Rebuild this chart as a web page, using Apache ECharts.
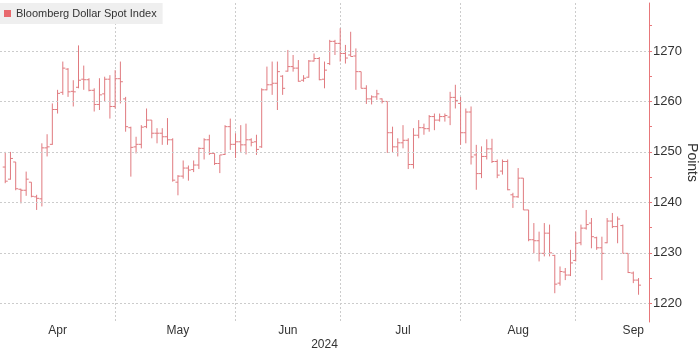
<!DOCTYPE html>
<html>
<head>
<meta charset="utf-8">
<script src="https://cdn.jsdelivr.net/npm/echarts@6/dist/echarts.min.js"></script>
<style>
  html, body { margin: 0; padding: 0; background: #fff; }
  #chart { width: 699px; height: 353px; }
</style>
</head>
<body>
<div id="chart"></div>
<script>
  // daily bars, Apr 2 - Sep 18 2024 (weekdays)
  var firstDay = '2024-04-02';
  var lastDay = '2024-09-18';

  var open = [
    1247.0, 1244.6, 1248.0, 1242.6, 1242.4, 1244.0, 1241.1, 1240.7, 1250.8, 1251.5,
    1258.4, 1261.8, 1266.4, 1262.0, 1262.8, 1264.4, 1264.3, 1262.2, 1259.4, 1261.5,
    1264.4, 1259.0, 1264.5, 1260.5, 1254.8, 1251.0, 1251.5, 1255.0, 1256.3, 1253.7,
    1253.7, 1253.0, 1252.4, 1244.0, 1245.2, 1246.8, 1246.5, 1247.4, 1250.7, 1252.4,
    1249.7, 1247.7, 1249.5, 1255.0, 1251.5, 1252.0, 1251.4, 1252.4, 1252.0, 1251.0,
    1262.3, 1263.3, 1263.6, 1265.0, 1266.0, 1266.9, 1266.6, 1264.2, 1264.8, 1268.0,
    1268.5, 1264.4, 1267.5, 1271.9, 1271.5, 1269.5, 1269.2, 1269.0, 1265.9, 1262.6,
    1260.5, 1260.9, 1260.5, 1260.0, 1253.8, 1251.0, 1251.8, 1252.3, 1247.5, 1253.3,
    1254.8, 1254.6, 1257.0, 1256.3, 1257.0, 1256.9, 1260.8, 1259.6, 1253.8, 1257.9,
    1249.4, 1245.7, 1249.1, 1250.6, 1248.1, 1246.2, 1248.1, 1241.5, 1241.1, 1244.8,
    1238.5, 1232.6, 1232.4, 1229.9, 1233.9, 1229.5, 1224.0, 1226.2, 1225.6, 1228.5,
    1232.0, 1234.9, 1235.9, 1233.0, 1231.0, 1232.0, 1236.3, 1235.2, 1235.4, 1229.9,
    1226.0, 1224.6
  ];
  var high = [
    1250.0, 1250.0, 1248.0, 1242.7, 1246.1, 1244.0, 1241.5, 1251.7, 1253.5, 1259.6,
    1262.3, 1267.9, 1266.6, 1264.2, 1271.1, 1267.1, 1264.6, 1262.6, 1264.6, 1264.9,
    1265.2, 1266.2, 1267.9, 1260.9, 1255.0, 1253.0, 1255.3, 1258.6, 1256.3, 1254.7,
    1254.7, 1256.7, 1252.7, 1245.4, 1248.3, 1247.3, 1248.3, 1250.9, 1252.7, 1253.4,
    1249.7, 1249.4, 1255.3, 1256.6, 1253.7, 1255.3, 1255.6, 1252.7, 1253.4, 1262.6,
    1266.9, 1267.9, 1267.9, 1265.2, 1270.2, 1269.2, 1268.2, 1265.2, 1268.2, 1269.5,
    1268.8, 1267.9, 1272.2, 1272.2, 1274.5, 1271.2, 1273.8, 1270.5, 1265.9, 1263.2,
    1261.2, 1262.3, 1260.6, 1260.0, 1255.0, 1252.7, 1255.3, 1252.7, 1254.7, 1256.3,
    1255.6, 1257.3, 1257.6, 1257.6, 1257.6, 1261.9, 1263.3, 1260.9, 1258.6, 1259.0,
    1251.4, 1251.1, 1252.5, 1252.6, 1248.5, 1248.5, 1248.5, 1241.9, 1246.8, 1244.8,
    1238.5, 1235.9, 1234.2, 1235.9, 1235.6, 1229.6, 1227.3, 1227.0, 1230.6, 1234.2,
    1235.6, 1238.5, 1236.9, 1233.2, 1233.2, 1236.9, 1237.9, 1237.2, 1235.6, 1229.9,
    1226.3, 1225.0
  ];
  var low = [
    1243.8, 1244.5, 1242.4, 1239.8, 1241.3, 1241.0, 1238.5, 1239.2, 1249.1, 1251.4,
    1257.6, 1261.3, 1260.9, 1259.0, 1262.6, 1262.3, 1262.0, 1258.0, 1258.3, 1259.9,
    1256.6, 1258.6, 1259.6, 1254.0, 1245.1, 1249.7, 1250.7, 1254.7, 1252.7, 1251.7,
    1251.4, 1251.4, 1244.1, 1241.4, 1244.7, 1244.3, 1246.0, 1246.6, 1248.5, 1249.4,
    1247.4, 1245.8, 1249.4, 1250.4, 1248.8, 1250.0, 1249.5, 1251.1, 1249.4, 1250.8,
    1262.2, 1261.3, 1258.3, 1261.3, 1265.9, 1265.9, 1263.9, 1263.9, 1264.7, 1267.9,
    1264.2, 1262.6, 1267.2, 1269.2, 1267.9, 1267.5, 1268.9, 1262.3, 1262.6, 1259.5,
    1259.4, 1260.3, 1259.6, 1249.8, 1249.8, 1249.1, 1250.7, 1246.6, 1246.7, 1252.7,
    1253.4, 1254.0, 1254.3, 1256.0, 1256.0, 1255.3, 1258.6, 1251.4, 1251.7, 1247.5,
    1242.5, 1244.8, 1248.5, 1247.8, 1244.8, 1245.5, 1242.4, 1238.9, 1240.9, 1238.5,
    1232.3, 1229.9, 1228.3, 1229.3, 1229.3, 1222.0, 1223.5, 1224.6, 1225.4, 1228.3,
    1231.5, 1234.6, 1230.9, 1230.6, 1224.6, 1231.9, 1234.9, 1231.9, 1229.9, 1226.0,
    1224.0, 1221.7
  ];
  var close = [
    1244.2, 1248.7, 1242.7, 1242.4, 1244.6, 1241.2, 1240.8, 1250.8, 1251.0, 1258.4,
    1261.6, 1266.6, 1261.9, 1261.9, 1264.2, 1264.3, 1262.2, 1259.4, 1261.3, 1264.4,
    1259.0, 1264.5, 1263.9, 1255.0, 1250.9, 1251.5, 1254.9, 1256.3, 1253.7, 1253.7,
    1253.0, 1252.4, 1244.4, 1245.2, 1246.8, 1246.4, 1247.4, 1250.7, 1252.4, 1249.7,
    1247.7, 1249.4, 1255.0, 1251.5, 1252.0, 1251.4, 1252.4, 1251.9, 1250.5, 1262.3,
    1263.3, 1263.6, 1265.9, 1262.6, 1266.9, 1266.6, 1264.0, 1264.6, 1268.0, 1268.5,
    1264.3, 1266.2, 1271.9, 1271.5, 1269.5, 1268.6, 1268.9, 1265.9, 1262.6, 1260.5,
    1260.9, 1261.5, 1260.0, 1253.8, 1251.0, 1251.8, 1252.3, 1247.5, 1253.3, 1254.8,
    1254.6, 1257.0, 1256.3, 1257.0, 1257.2, 1260.8, 1260.2, 1253.8, 1257.9, 1249.0,
    1245.7, 1249.1, 1250.6, 1248.1, 1245.4, 1248.1, 1242.5, 1241.1, 1244.8, 1238.5,
    1232.6, 1232.4, 1229.9, 1233.9, 1230.0, 1223.8, 1226.3, 1225.6, 1228.0, 1231.9,
    1234.9, 1235.6, 1233.2, 1231.0, 1229.9, 1236.3, 1235.2, 1236.7, 1229.9, 1226.1,
    1224.6, 1223.6
  ];

  var monthNames = ['Jan', 'Feb', 'Mar', 'Apr', 'May', 'Jun', 'Jul', 'Aug', 'Sep', 'Oct', 'Nov', 'Dec'];
  // the month names sit roughly mid-month
  var labelDates = ['2024-04-16', '2024-05-17', '2024-06-17', '2024-07-17', '2024-08-16', '2024-09-17'];
  var yTicks = [1220, 1230, 1240, 1250, 1260, 1270];
  var yMinorTicks = [1220, 1225, 1230, 1235, 1240, 1245, 1250, 1255, 1260, 1265, 1270, 1275];

  var legendColor = '#e8686d';
  var barColor = '#e07a7f';
  var gridColor = '#cccccc';

  // weekday categories
  var dates = [];
  var d = new Date(firstDay + 'T00:00:00Z');
  var end = new Date(lastDay + 'T00:00:00Z');
  while (d <= end) {
    var wd = d.getUTCDay();
    if (wd !== 0 && wd !== 6) dates.push(d.toISOString().slice(0, 10));
    d.setUTCDate(d.getUTCDate() + 1);
  }
  // one blank slot in front, two behind
  var categories = [''].concat(dates, ['', '']);

  function isMonthStart(idx) {
    var cur = categories[idx], prev = categories[idx - 1];
    if (!cur || !prev) return false;
    return cur.slice(5, 7) !== prev.slice(5, 7);
  }

  var seriesData = dates.map(function(day, i) {
    return [i + 1, open[i], high[i], low[i], close[i]];
  });

  var chart = echarts.init(document.getElementById('chart'));
  chart.setOption({
    animation: false,
    textStyle: { fontFamily: 'Liberation Sans, Arial, sans-serif' },
    grid: { left: 0, right: 50, top: 3, bottom: 31, containLabel: false, outerBoundsMode: 'none' },
    legend: {
      left: 0,
      top: 3,
      backgroundColor: '#efefef',
      padding: [5, 6, 5, 4],
      icon: 'rect',
      itemWidth: 7,
      itemHeight: 7,
      itemGap: 4,
      textStyle: { fontSize: 11, color: '#333' },
      data: [{ name: 'Bloomberg Dollar Spot Index', itemStyle: { color: legendColor } }]
    },
    xAxis: {
      type: 'category',
      data: categories,
      boundaryGap: false,
      axisLine: { show: false },
      axisTick: { show: false },
      axisLabel: {
        interval: function(idx, value) { return labelDates.indexOf(value) >= 0; },
        formatter: function(value) { return monthNames[parseInt(value.slice(5, 7), 10) - 1]; },
        color: '#333',
        fontSize: 12,
        fontFamily: 'Liberation Sans Narrow, Liberation Sans, sans-serif',
        margin: 3
      },
      splitLine: {
        show: true,
        interval: function(idx) { return isMonthStart(idx); },
        lineStyle: { color: gridColor, type: [2, 2], width: 1 }
      },
      name: '2024',
      nameLocation: 'middle',
      nameGap: 17,
      nameMoveOverlap: false,
      nameTextStyle: { color: '#333', fontSize: 12, fontFamily: 'Liberation Sans Narrow, Liberation Sans, sans-serif' }
    },
    yAxis: {
      type: 'value',
      position: 'right',
      min: 1216.3,
      max: 1279.5,
      axisLine: { show: true, lineStyle: { color: '#e8777a', width: 1 } },
      axisTick: { show: true, length: 3, customValues: yMinorTicks, lineStyle: { color: '#e8777a' } },
      axisLabel: {
        customValues: yTicks,
        formatter: function(v) { return String(v); },
        color: '#333',
        fontSize: 13,
        margin: 4
      },
      splitLine: { show: false },
      name: 'Points',
      nameLocation: 'middle',
      nameRotate: -90,
      nameGap: 36,
      nameMoveOverlap: false,
      nameTextStyle: { color: '#333', fontSize: 14 }
    },
    series: [{
      name: 'Bloomberg Dollar Spot Index',
      type: 'custom',
      itemStyle: { color: legendColor },
      encode: { x: 0, y: [1, 2, 3, 4] },
      data: seriesData,
      renderItem: function(params, api) {
        var x = api.value(0);
        var o = api.coord([x, api.value(1)]);
        var h = api.coord([x, api.value(2)]);
        var l = api.coord([x, api.value(3)]);
        var c = api.coord([x, api.value(4)]);
        var style = { stroke: barColor, lineWidth: 1 };
        return {
          type: 'group',
          children: [
            { type: 'line', shape: { x1: h[0], y1: h[1], x2: l[0], y2: l[1] }, style: style },
            { type: 'line', shape: { x1: o[0] - 2.5, y1: o[1], x2: o[0], y2: o[1] }, style: style },
            { type: 'line', shape: { x1: c[0], y1: c[1], x2: c[0] + 2.5, y2: c[1] }, style: style }
          ]
        };
      },
      markLine: {
        silent: true,
        symbol: 'none',
        label: { show: false },
        lineStyle: { color: gridColor, type: [2, 2], width: 1 },
        data: yTicks.map(function(v) { return { yAxis: v }; })
      },
      z: 3
    }]
  });
</script>
</body>
</html>
